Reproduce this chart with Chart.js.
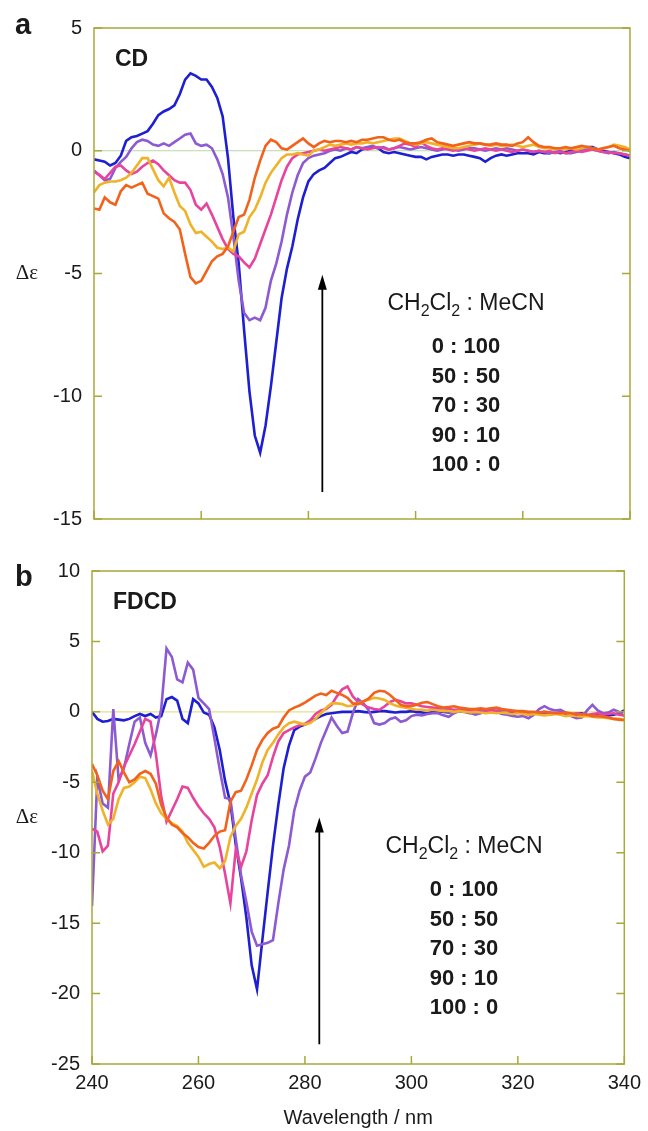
<!DOCTYPE html>
<html>
<head>
<meta charset="utf-8">
<title>CD / FDCD spectra</title>
<script src="https://cdn.jsdelivr.net/npm/chart.js@4.4.1/dist/chart.umd.min.js"></script>
<style>
  html, body { margin: 0; padding: 0; background: #ffffff; }
  .panel { position: absolute; left: 0; }
</style>
</head>
<body>
<canvas id="cdChart" class="panel" width="648" height="545" style="top:0"></canvas>
<canvas id="fdcdChart" class="panel" width="648" height="586" style="top:545px"></canvas>
<script>
// sampling grid, nm
const wavelengthNm = [
  240, 241, 242, 243, 244, 245, 246, 247, 248, 249,
  250, 251, 252, 253, 254, 255, 256, 257, 258, 259,
  260, 261, 262, 263, 264, 265, 266, 267, 268, 269,
  270, 271, 272, 273, 274, 275, 276, 277, 278, 279,
  280, 281, 282, 283, 284, 285, 286, 287, 288, 289,
  290, 291, 292, 293, 294, 295, 296, 297, 298, 299,
  300, 301, 302, 303, 304, 305, 306, 307, 308, 309,
  310, 311, 312, 313, 314, 315, 316, 317, 318, 319,
  320, 321, 322, 323, 324, 325, 326, 327, 328, 329,
  330, 331, 332, 333, 334, 335, 336, 337, 338, 339,
  340
];

const ratioLabels = ['0 : 100', '50 : 50', '70 : 30', '90 : 10', '100 : 0'];
const xTickValues = [240, 260, 280, 300, 320, 340];
const cdTickValues = [-15, -10, -5, 0, 5];
const fdcdTickValues = [-25, -20, -15, -10, -5, 0, 5, 10];

// ---- panel a: CD ----
const cdBlue = [
  -0.35, -0.4, -0.45, -0.6, -0.5, -0.2, 0.4, 0.55, 0.6, 0.7,
  0.8, 1.1, 1.45, 1.6, 1.7, 1.85, 2.3, 2.9, 3.15, 3.05,
  2.9, 2.9, 2.6, 2.15, 1.4, -0.3, -2.7, -4.6, -7.3, -9.8,
  -11.6, -12.3, -11.2, -9.6, -7.8, -6.0, -4.8, -3.9, -2.8, -1.9,
  -1.25, -0.95, -0.8, -0.7, -0.5, -0.3, -0.25, -0.15, -0.05, -0.1,
  0.05, 0.1, 0.15, 0.1, -0.05, -0.1, -0.05, -0.1, -0.15, -0.2,
  -0.25, -0.25, -0.35, -0.25, -0.2, -0.15, -0.15, -0.2, -0.15, -0.15,
  -0.2, -0.25, -0.3, -0.45, -0.3, -0.2, -0.15, -0.2, -0.15, -0.1,
  -0.1, -0.1, -0.15, -0.05, -0.1, -0.1, -0.05, -0.1, -0.05, 0.0,
  0.05, 0.1, 0.15, 0.15, 0.05, 0.0, -0.05, -0.1, -0.15, -0.25,
  -0.3
];
const cdPurple = [
  -0.8, -1.0, -1.2, -1.15, -0.7, -0.45, -0.25, 0.1, 0.35, 0.45,
  0.4, 0.25, 0.2, 0.3, 0.2, 0.35, 0.5, 0.65, 0.7, 0.3,
  0.2, 0.25, 0.1, -0.35, -0.95, -1.9, -3.5, -5.3, -6.6, -6.9,
  -6.8, -6.9, -6.4, -5.3, -4.6, -3.7, -2.6, -1.7, -1.0, -0.5,
  -0.3, -0.2, -0.15, -0.1, 0.0, 0.05, 0.0, 0.1, 0.05, 0.15,
  0.1, 0.15, 0.2, 0.1, 0.15, 0.05, 0.1, 0.15, 0.1, 0.05,
  0.1, 0.15, 0.1, 0.05, 0.0, 0.05, 0.1, 0.05, 0.0, 0.05,
  0.1, 0.1, 0.05, 0.0, 0.05, 0.1, 0.05, 0.1, 0.05, 0.0,
  0.05, 0.0, -0.05, 0.0, -0.05, -0.1, -0.05, 0.0, -0.1, -0.1,
  -0.05, 0.0, 0.05, 0.05, 0.0, -0.05, -0.1, -0.05, -0.1, -0.15,
  -0.2
];
const cdMagenta = [
  -0.85, -0.98, -1.15, -0.9, -0.65, -0.6, -0.8, -0.95, -0.85, -0.65,
  -0.5, -0.4, -0.55, -0.8, -1.0, -1.2, -1.3, -1.3, -1.6, -2.2,
  -2.4, -2.15, -2.6, -3.1, -3.6, -4.0, -4.2, -4.3, -4.55, -4.75,
  -4.4, -3.8, -3.2, -2.6, -1.9, -1.2, -0.65, -0.3, -0.15, -0.1,
  -0.05, 0.0, 0.05, 0.0, 0.05, 0.1, 0.15, 0.1, 0.05, 0.15,
  0.1, 0.05, 0.1, 0.15, 0.1, 0.05, 0.1, 0.2, 0.3, 0.25,
  0.15, 0.35, 0.2, 0.1, 0.05, 0.1, 0.05, 0.0, 0.05, 0.1,
  0.05, 0.0, 0.05, 0.1, 0.05, 0.0, 0.05, 0.0, -0.05, 0.0,
  0.05, 0.0, -0.05, 0.0, -0.05, 0.0, -0.1, -0.05, -0.1, -0.05,
  0.0, -0.05, 0.0, 0.05, 0.0, -0.05, -0.05, -0.1, -0.1, -0.15,
  -0.2
];
const cdYellow = [
  -1.7, -1.4, -1.3, -1.25, -1.25, -1.2, -1.1, -0.9, -0.6, -0.3,
  -0.3, -0.75, -1.2, -1.45, -1.1, -1.7, -2.25, -2.45, -3.0, -3.35,
  -3.3, -3.5, -3.7, -3.95, -4.0, -3.95, -4.1, -3.4, -3.3, -2.7,
  -2.4, -1.9, -1.3, -0.9, -0.6, -0.3, -0.15, -0.15, -0.1, -0.15,
  -0.2, 0.0, 0.05, 0.15, 0.25, 0.2, 0.25, 0.3, 0.25, 0.3,
  0.3, 0.35, 0.3, 0.35, 0.4, 0.45, 0.5, 0.5, 0.4, 0.3,
  0.25, 0.3, 0.35, 0.3, 0.25, 0.2, 0.15, 0.1, 0.1, 0.15,
  0.2, 0.25, 0.3, 0.25, 0.2, 0.25, 0.2, 0.2, 0.25, 0.2,
  0.15, 0.2, 0.25, 0.15, 0.1, 0.1, 0.05, 0.1, 0.05, 0.1,
  0.05, 0.1, 0.15, 0.1, 0.05, 0.1, 0.15, 0.25, 0.2, 0.15,
  0.05
];
const cdOrange = [
  -2.35, -2.4, -1.9, -2.1, -2.2, -1.65, -1.4, -1.5, -1.4, -1.3,
  -1.75, -1.85, -1.95, -2.55, -2.75, -2.9, -3.2, -4.2, -5.15, -5.4,
  -5.3, -4.9, -4.5, -4.3, -4.2, -3.9, -3.3, -2.7, -2.6, -2.0,
  -1.1, -0.4, 0.2, 0.45, 0.35, 0.1, 0.05, 0.2, 0.35, 0.5,
  0.3, 0.15, 0.3, 0.4, 0.35, 0.4, 0.4, 0.35, 0.4, 0.35,
  0.45, 0.45, 0.5, 0.55, 0.55, 0.45, 0.4, 0.45, 0.35, 0.3,
  0.3, 0.35, 0.45, 0.5, 0.35, 0.3, 0.25, 0.2, 0.25, 0.3,
  0.35, 0.3, 0.3, 0.25, 0.25, 0.3, 0.25, 0.25, 0.2, 0.3,
  0.35, 0.55, 0.35, 0.2, 0.15, 0.15, 0.1, 0.1, 0.15, 0.1,
  0.15, 0.2, 0.15, 0.1, 0.05, 0.1, 0.15, 0.2, 0.1, 0.05,
  0.0
];

// ---- panel b: FDCD ----
const fdcdBlue = [
  0.0, -0.5, -0.7, -0.65, -0.5, -0.55, -0.6, -0.5, -0.3, -0.15,
  -0.3, -0.15, -0.4, -0.3, 0.9, 1.05, 0.8, -0.5, -0.8, 0.9,
  0.6, -0.05, -0.2, -1.1, -2.7, -4.9, -6.5, -9.4, -11.8, -14.6,
  -18.0, -19.7, -16.2, -12.8, -9.5, -6.6, -4.0, -2.4, -1.3, -1.05,
  -0.9, -0.7, -0.5, -0.3, -0.15, -0.1, -0.05, 0.0, 0.0, 0.0,
  0.05, 0.0, -0.05, 0.0, 0.05, 0.05, 0.0, -0.05, 0.0, 0.0,
  0.05, 0.0, -0.05, -0.1, 0.0, 0.05, 0.0, -0.05, 0.0, 0.05,
  0.0, -0.1, -0.05, 0.0, 0.05, 0.0, 0.0, -0.05, -0.1, -0.05,
  0.0, -0.1, -0.15, -0.1, -0.05, -0.15, -0.2, -0.1, -0.05, -0.15,
  -0.2, -0.15, -0.1, -0.2, -0.25, -0.2, -0.15, -0.25, -0.2, -0.1,
  0.1
];
const fdcdPurple = [
  -13.8, -4.7, -6.5, -6.8, 0.2, -4.8, -4.0, -2.3, -0.7, -0.4,
  -2.2, -3.1, -1.6, 0.2, 4.5, 3.9, 2.3, 2.1, 3.5, 3.0,
  1.0, 0.6, 0.2, -1.9, -4.1, -6.1, -6.2, -9.0, -11.6, -13.5,
  -15.6, -16.6, -16.5, -16.4, -16.2, -13.6, -11.2, -9.5, -7.0, -5.6,
  -4.6, -4.3, -3.3, -2.2, -1.3, -0.4, -1.0, -1.5, -1.4, -0.1,
  0.9, 0.6, 0.1, -0.8, -0.9, -0.8, -0.5, -0.4, -0.7, -0.6,
  -0.3, -0.2, -0.25, -0.15, -0.1, -0.1, -0.25, -0.35, -0.1, 0.05,
  0.15, -0.05, -0.2, -0.1, 0.1, 0.25, 0.0, -0.15, -0.2, -0.3,
  -0.35, -0.3, -0.45, -0.2, 0.2, 0.4, 0.2, 0.1, 0.15, -0.05,
  -0.3, -0.45, -0.4, 0.1, 0.5, 0.1, -0.1, -0.05, 0.15, 0.0,
  -0.3
];
const fdcdMagenta = [
  -8.3, -8.5, -9.9, -9.5, -5.8, -5.0, -3.9, -3.1, -2.3, -1.4,
  -0.5, -0.7, -3.0, -6.0, -7.8, -7.0, -6.2, -5.3, -5.4, -6.1,
  -6.7, -7.2, -7.6, -8.2, -9.6, -11.5, -13.6, -9.8, -11.0, -9.9,
  -7.7, -5.9, -5.1, -4.5, -3.2, -2.1, -1.5, -1.3, -1.1, -0.95,
  -0.85, -0.6, -0.15, 0.1, 0.2, 0.5, 1.1, 1.6, 1.8, 1.1,
  0.7, 0.5, 0.3, 0.2, 0.15, 0.4, 0.7, 0.85, 0.75, 0.6,
  0.6, 0.5, 0.4, 0.35, 0.3, 0.25, 0.25, 0.2, 0.15, 0.15,
  0.1, 0.15, 0.1, 0.15, 0.1, 0.05, 0.1, 0.15, 0.1, 0.05,
  0.0, -0.1, -0.2, -0.1, -0.05, 0.0, -0.05, -0.1, -0.05, -0.1,
  -0.15, -0.1, -0.2, -0.25, -0.15, -0.1, -0.2, -0.15, -0.1, -0.2,
  -0.25
];
const fdcdYellow = [
  -4.2, -5.8, -7.0, -8.0, -7.6, -6.2, -5.4, -5.3, -5.0, -4.6,
  -4.7, -5.5, -6.5, -7.2, -7.6, -7.9, -8.1, -8.5, -9.3, -9.8,
  -10.3, -11.0, -10.8, -10.7, -11.1, -10.6, -8.9, -8.1, -7.6, -6.8,
  -5.8, -4.8, -3.6, -2.7, -2.2, -1.6, -1.1, -0.8, -0.7, -0.8,
  -0.9, -0.8, -0.5, -0.1, 0.3, 0.6, 0.6, 0.55, 0.4, 0.45,
  0.6, 0.75, 0.85, 1.0, 0.95, 0.85, 0.6, 0.45, 0.35, 0.3,
  0.2, 0.15, 0.15, 0.1, 0.15, 0.1, 0.05, 0.05, 0.0, 0.05,
  0.0, -0.05, 0.0, -0.05, -0.1, -0.05, -0.1, -0.05, -0.1, -0.15,
  -0.1, -0.15, -0.2, -0.15, -0.2, -0.25, -0.2, -0.15, -0.2, -0.3,
  -0.25, -0.3, -0.35, -0.3, -0.35, -0.4, -0.4, -0.45, -0.5, -0.5,
  -0.55
];
const fdcdOrange = [
  -3.7, -4.5, -5.6, -6.2, -4.2, -3.5, -4.3, -5.0, -4.8, -4.4,
  -4.2, -4.4, -5.1, -6.6, -7.5, -8.0, -8.2, -8.6, -8.9, -9.3,
  -9.6, -9.7, -9.3, -8.8, -8.5, -8.4, -6.4, -5.7, -5.6, -4.8,
  -3.8, -2.7, -2.0, -1.5, -1.2, -1.05, -0.4, 0.1, 0.3, 0.45,
  0.65, 0.9, 1.15, 1.3, 1.2, 1.5, 1.35, 1.2, 1.0, 0.6,
  0.55, 0.75, 0.95, 1.35, 1.5, 1.45, 1.2, 0.85, 0.5, 0.4,
  0.4, 0.5, 0.65, 0.7, 0.55, 0.4, 0.3, 0.35, 0.4, 0.3,
  0.25, 0.2, 0.2, 0.25, 0.2, 0.25, 0.3, 0.2, 0.15, 0.1,
  0.05, 0.05, 0.0, 0.0, -0.05, 0.0, -0.05, -0.1, -0.1, -0.05,
  -0.1, -0.2, -0.15, -0.2, -0.3, -0.3, -0.35, -0.4, -0.5, -0.55,
  -0.6
];

const COLORS = {
  blue: '#1e1ed2',
  purple: '#8c5ad2',
  magenta: '#e8449e',
  yellow: '#f0b228',
  orange: '#f2621a'
};
const FRAME_COLOR = '#a9a83a';
const TEXT_COLOR = '#1a1a1a';
const SANS = "'Liberation Sans', Arial, sans-serif";
const SERIF = "'Liberation Serif', 'Times New Roman', serif";
const TICK_LEN = 8;

Chart.defaults.font.family = SANS;
Chart.defaults.color = TEXT_COLOR;

function buildDatasets(series) {
  return series.map(s => ({
    label: s.label,
    data: wavelengthNm.map((w, i) => ({ x: w, y: s.values[i] })),
    borderColor: s.color,
    borderWidth: 2.6,
    pointRadius: 0,
    tension: 0,
    fill: false
  }));
}

function drawSolventHeader(ctx, cx, baseline) {
  const parts = [['CH', false], ['2', true], ['Cl', false], ['2', true], [' : MeCN', false]];
  const big = `23px ${SANS}`;
  const small = `16px ${SANS}`;
  let total = 0;
  parts.forEach(([t, sub]) => { ctx.font = sub ? small : big; total += ctx.measureText(t).width; });
  let x = cx - total / 2;
  ctx.textAlign = 'left';
  ctx.textBaseline = 'alphabetic';
  parts.forEach(([t, sub]) => {
    ctx.font = sub ? small : big;
    ctx.fillText(t, x, baseline + (sub ? 6 : 0));
    x += ctx.measureText(t).width;
  });
}

const panelDecor = {
  id: 'panelDecor',
  beforeDatasetsDraw(chart, args, o) {
    const { ctx, chartArea: area, scales } = chart;
    const y0 = scales.y.getPixelForValue(0);
    ctx.save();
    ctx.strokeStyle = o.zeroColor;
    ctx.lineWidth = 1.2;
    ctx.beginPath();
    ctx.moveTo(area.left, y0);
    ctx.lineTo(area.right, y0);
    ctx.stroke();
    ctx.restore();
  },
  afterDatasetsDraw(chart, args, o) {
    const { ctx, chartArea: area, scales: { x, y } } = chart;
    ctx.save();

    // frame + inward tick marks
    ctx.strokeStyle = FRAME_COLOR;
    ctx.lineWidth = 1.5;
    ctx.strokeRect(area.left, area.top, area.right - area.left, area.bottom - area.top);
    ctx.beginPath();
    y.ticks.forEach(t => {
      const py = y.getPixelForValue(t.value);
      ctx.moveTo(area.left, py); ctx.lineTo(area.left + TICK_LEN, py);
      ctx.moveTo(area.right, py); ctx.lineTo(area.right - TICK_LEN, py);
    });
    x.ticks.forEach(t => {
      const px = x.getPixelForValue(t.value);
      ctx.moveTo(px, area.bottom); ctx.lineTo(px, area.bottom - TICK_LEN);
    });
    ctx.stroke();

    ctx.fillStyle = TEXT_COLOR;
    ctx.textAlign = 'left';
    ctx.textBaseline = 'alphabetic';
    ctx.font = `bold 29px ${SANS}`;
    ctx.fillText(o.letter, 15, o.letterBaseline);

    ctx.font = `bold 23px ${SANS}`;
    ctx.fillText(o.title, area.left + 21, area.top + 38);

    ctx.font = `21px ${SERIF}`;
    ctx.textAlign = 'center';
    ctx.textBaseline = 'middle';
    ctx.fillText('\u0394\u03b5', 27, (area.top + area.bottom) / 2);

    // solvent ratio block
    const cx = area.left + 372;
    drawSolventHeader(ctx, cx, area.top + 282);
    ctx.font = `bold 22px ${SANS}`;
    ctx.textAlign = 'center';
    ctx.textBaseline = 'alphabetic';
    ratioLabels.forEach((r, i) => ctx.fillText(r, cx, area.top + 325 + i * 29.6));

    // arrow
    const ax = x.getPixelForValue(o.arrow.nm);
    const yTail = y.getPixelForValue(o.arrow.from);
    const yTip = y.getPixelForValue(o.arrow.to);
    ctx.strokeStyle = '#000';
    ctx.fillStyle = '#000';
    ctx.lineWidth = 1.8;
    ctx.beginPath();
    ctx.moveTo(ax, yTail);
    ctx.lineTo(ax, yTip + 12);
    ctx.stroke();
    ctx.beginPath();
    ctx.moveTo(ax, yTip);
    ctx.lineTo(ax - 4.5, yTip + 15);
    ctx.lineTo(ax + 4.5, yTip + 15);
    ctx.closePath();
    ctx.fill();

    ctx.restore();
  }
};

function makePanel(canvasId, cfg) {
  return new Chart(document.getElementById(canvasId), {
    type: 'line',
    data: { datasets: buildDatasets(cfg.series) },
    options: {
      responsive: false,
      animation: false,
      devicePixelRatio: 1,
      layout: { padding: { top: cfg.padTop, right: cfg.padRight, left: 0, bottom: 0 } },
      plugins: {
        legend: { display: false },
        tooltip: { enabled: false },
        panelDecor: cfg.decor
      },
      scales: {
        x: {
          type: 'linear',
          min: 240,
          max: 340,
          grid: { display: false, drawTicks: false },
          border: { display: false },
          afterBuildTicks: s => { s.ticks = xTickValues.map(v => ({ value: v })); },
          afterFit: s => { s.height = cfg.xHeight; },
          ticks: { display: cfg.showX, padding: 7, font: { size: 20 }, color: TEXT_COLOR },
          title: {
            display: cfg.showX,
            text: 'Wavelength / nm',
            font: { size: 20 },
            color: TEXT_COLOR,
            padding: { top: 0, bottom: 1 }
          }
        },
        y: {
          type: 'linear',
          min: cfg.yMin,
          max: cfg.yMax,
          grid: { display: false, drawTicks: false },
          border: { display: false },
          afterBuildTicks: s => { s.ticks = cfg.yTicks.map(v => ({ value: v })); },
          afterFit: s => { s.width = cfg.yWidth; },
          ticks: { padding: 12, font: { size: 20 }, color: TEXT_COLOR }
        }
      }
    },
    plugins: [panelDecor]
  });
}

makePanel('cdChart', {
  series: [
    { label: '100 : 0', values: cdOrange, color: COLORS.orange },
    { label: '90 : 10', values: cdYellow, color: COLORS.yellow },
    { label: '70 : 30', values: cdMagenta, color: COLORS.magenta },
    { label: '50 : 50', values: cdPurple, color: COLORS.purple },
    { label: '0 : 100', values: cdBlue, color: COLORS.blue }
  ],
  padTop: 28, padRight: 18, xHeight: 26, yWidth: 94,
  yMin: -15, yMax: 5, yTicks: cdTickValues, showX: false,
  decor: {
    letter: 'a', letterBaseline: 34, title: 'CD', zeroColor: '#bcd6a8',
    arrow: { nm: 282.6, from: -13.9, to: -5.05 }
  }
});

makePanel('fdcdChart', {
  series: [
    { label: '100 : 0', values: fdcdOrange, color: COLORS.orange },
    { label: '90 : 10', values: fdcdYellow, color: COLORS.yellow },
    { label: '70 : 30', values: fdcdMagenta, color: COLORS.magenta },
    { label: '50 : 50', values: fdcdPurple, color: COLORS.purple },
    { label: '0 : 100', values: fdcdBlue, color: COLORS.blue }
  ],
  padTop: 26, padRight: 21, xHeight: 67, yWidth: 92,
  yMin: -25, yMax: 10, yTicks: fdcdTickValues, showX: true,
  decor: {
    letter: 'b', letterBaseline: 41, title: 'FDCD', zeroColor: '#e2e28a',
    arrow: { nm: 282.7, from: -23.6, to: -7.5 }
  }
});
</script>
</body>
</html>
